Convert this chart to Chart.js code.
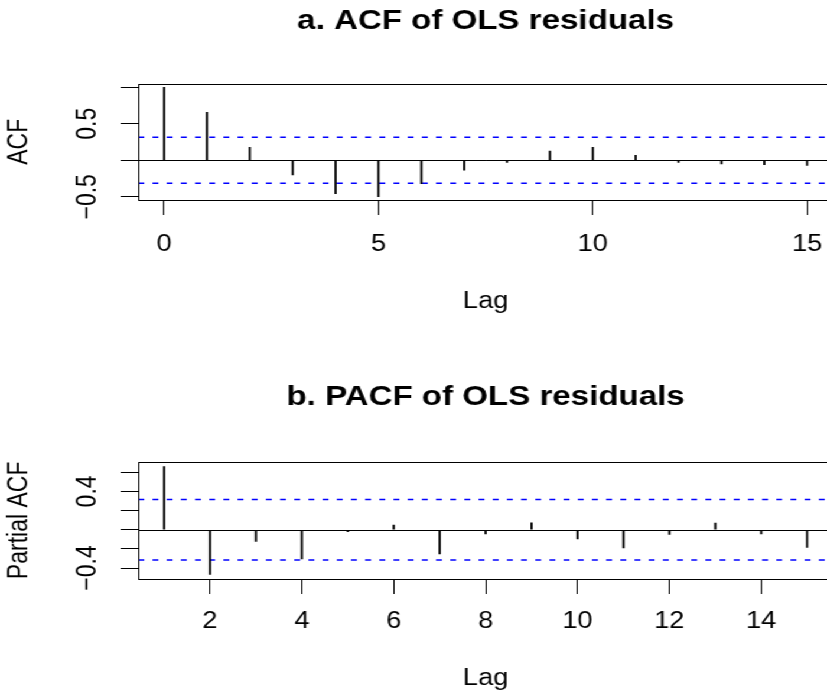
<!DOCTYPE html>
<html>
<head>
<meta charset="utf-8">
<script src="https://cdn.jsdelivr.net/npm/chart.js@4.4.1/dist/chart.umd.min.js"></script>
<style>
html, body { margin: 0; padding: 0; overflow: hidden; background: #fff; }
#plots { width: 833px; transform: scaleX(1.1814); transform-origin: 0 0; }
canvas { display: block; }
</style>
</head>
<body>
<div id="plots">
<canvas id="acfChart" width="833" height="347"></canvas>
<canvas id="pacfChart" width="833" height="347"></canvas>
</div>
<script>
// autocorrelations of the OLS residuals
const acfLags = [0, 1, 2, 3, 4, 5, 6, 7, 8, 9, 10, 11, 12, 13, 14, 15];
const acfValues = [1.0, 0.657, 0.178, -0.2, -0.457, -0.5, -0.32, -0.137, -0.03, 0.127, 0.178, 0.068, -0.03, -0.05, -0.06, -0.07];
const pacfLags = [1, 2, 3, 4, 5, 6, 7, 8, 9, 10, 11, 12, 13, 14, 15];
const pacfValues = [0.658, -0.466, -0.121, -0.306, -0.02, 0.049, -0.254, -0.045, 0.073, -0.097, -0.191, -0.048, 0.07, -0.045, -0.184];
const confBound = 0.316;

const acfLagTicks = [0, 5, 10, 15];
const acfTicks = [-0.5, 0, 0.5, 1];
const acfTickLabels = ["\u22120.5", "", "0.5", ""];
const pacfLagTicks = [2, 4, 6, 8, 10, 12, 14];
const pacfTicks = [-0.4, -0.2, 0, 0.2, 0.4, 0.6];
const pacfTickLabels = ["\u22120.4", "", "", "", "0.4", ""];

Chart.defaults.font.family = "'Liberation Sans', Arial, sans-serif";
Chart.defaults.color = "#000";

// zero line, dashed bounds and the box around the plot
const acfFrame = {
    id: "acfFrame",
    beforeDatasetsDraw(chart, args, opts) {
        const { ctx, chartArea: a, scales: { y } } = chart;
        ctx.save();
        ctx.lineWidth = 1;
        ctx.strokeStyle = "#000";
        const y0 = Math.round(y.getPixelForValue(0)) + 0.5;
        ctx.beginPath();
        ctx.moveTo(a.left, y0);
        ctx.lineTo(a.right, y0);
        ctx.stroke();
        ctx.strokeStyle = "#0000ff";
        ctx.lineWidth = 1.5;
        ctx.setLineDash([5, 7]);
        for (const v of [opts.bound, -opts.bound]) {
            const py = y.getPixelForValue(v);
            ctx.beginPath();
            ctx.moveTo(a.left, py);
            ctx.lineTo(a.right, py);
            ctx.stroke();
        }
        ctx.restore();
    },
    afterDatasetsDraw(chart) {
        const { ctx, chartArea: a } = chart;
        ctx.save();
        ctx.lineWidth = 1;
        ctx.strokeStyle = "#000";
        const l = Math.round(a.left) + 0.5, t = Math.round(a.top) + 0.5;
        const r = Math.round(a.right) + 0.5, b = Math.round(a.bottom) + 0.5;
        ctx.strokeRect(l, t, r - l, b - t);
        ctx.restore();
    }
};

function drawAcf(id, s) {
    return new Chart(id, {
        type: "bar",
        data: {
            datasets: [{
                data: s.lags.map((lag, i) => ({ x: lag, y: s.values[i] })),
                backgroundColor: "#000",
                borderWidth: 0,
                barThickness: 1.2
            }]
        },
        options: {
            responsive: false,
            animation: false,
            layout: { padding: { left: 0, right: 128, top: 0, bottom: 0 } },
            plugins: {
                legend: { display: false },
                tooltip: { enabled: false },
                title: {
                    display: true,
                    fullSize: false,
                    text: s.title,
                    font: { size: 28, weight: "bold" },
                    color: "#000",
                    padding: s.titlePad
                },
                acfFrame: { bound: confBound }
            },
            scales: {
                x: {
                    type: "linear",
                    min: s.xMin,
                    max: s.xMax,
                    offset: false,
                    afterBuildTicks: (scale) => { scale.ticks = s.lagTicks.map(v => ({ value: v })); },
                    afterFit: (scale) => { scale.height = s.xHeight; },
                    grid: { offset: false, drawOnChartArea: false, tickLength: 15, tickColor: "#000", tickWidth: 1 },
                    border: { display: false },
                    ticks: { autoSkip: false, maxRotation: 0, padding: s.xTickPad, font: { size: 23 }, color: "#000" },
                    title: { display: true, text: "Lag", font: { size: 23 }, color: "#000", padding: { top: 0, bottom: s.xTitlePad } }
                },
                y: {
                    min: s.yMin,
                    max: s.yMax,
                    afterBuildTicks: (scale) => { scale.ticks = s.yTicks.map(v => ({ value: v })); },
                    afterFit: (scale) => { scale.width = 117.1; },
                    grid: { drawOnChartArea: false, tickLength: 15, tickColor: "#000", tickWidth: 1 },
                    border: { display: false },
                    ticks: {
                        autoSkip: false,
                        minRotation: 90,
                        maxRotation: 90,
                        crossAlign: "center",
                        padding: 4.6,
                        font: { size: 23 },
                        color: "#000",
                        callback: (value, index) => s.yTickLabels[index]
                    },
                    title: { display: true, text: s.yTitle, font: { size: 23 }, color: "#000", padding: { top: 2.7, bottom: 0 } }
                }
            }
        },
        plugins: [acfFrame]
    });
}

drawAcf("acfChart", {
    title: "a. ACF of OLS residuals",
    yTitle: "ACF",
    lags: acfLags,
    values: acfValues,
    lagTicks: acfLagTicks,
    yTicks: acfTicks,
    yTickLabels: acfTickLabels,
    xMin: -0.6, xMax: 15.6,
    yMin: -0.544, yMax: 1.052,
    titlePad: { top: 4.9, bottom: 45 },
    xHeight: 147, xTickPad: 16, xTitlePad: 31.5
});

drawAcf("pacfChart", {
    title: "b. PACF of OLS residuals",
    yTitle: "Partial ACF",
    lags: pacfLags,
    values: pacfValues,
    lagTicks: pacfLagTicks,
    yTicks: pacfTicks,
    yTickLabels: pacfTickLabels,
    xMin: 0.44, xMax: 15.56,
    yMin: -0.5146, yMax: 0.71,
    titlePad: { top: 33.4, bottom: 47.7 },
    xHeight: 115, xTickPad: 14.2, xTitlePad: 1.2
});
</script>
</body>
</html>
